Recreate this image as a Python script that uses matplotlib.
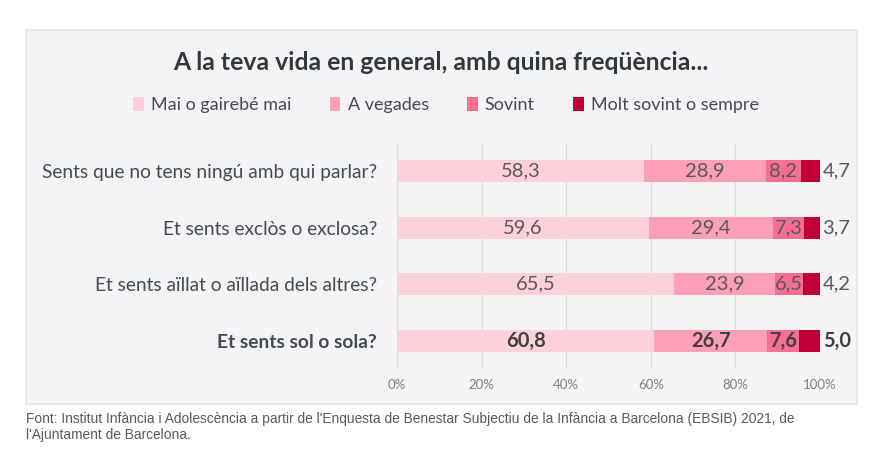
import matplotlib.pyplot as plt
from matplotlib.patches import Rectangle

plt.rcParams['font.family'] = ['Lato', 'DejaVu Sans']

# data
questions = ["Sents que no tens ningú amb qui parlar?",
             "Et sents exclòs o exclosa?",
             "Et sents aïllat o aïllada dels altres?",
             "Et sents sol o sola?"]
mai = [58.3, 59.6, 65.5, 60.8]
a_vegades = [28.9, 29.4, 23.9, 26.7]
sovint = [8.2, 7.3, 6.5, 7.6]
molt = [4.7, 3.7, 4.2, 5.0]
series_names = ["Mai o gairebé mai", "A vegades", "Sovint", "Molt sovint o sempre"]
colors = ["#FDD0DC", "#FBA0B7", "#F66E92", "#C10037"]
ticks = [0, 20, 40, 60, 80, 100]

fig = plt.figure(figsize=(8.7, 4.53), dpi=100)
W, H = 870, 453

# grey panel
fig.patches.append(Rectangle((26 / W, 1 - 404 / H), (857 - 26) / W, (404 - 30) / H,
                             transform=fig.transFigure, facecolor="#F4F4F6",
                             edgecolor="#E6E6E9", linewidth=1.2, zorder=-5))

ax = fig.add_axes([397 / W, 1 - 369 / H, (820 - 397) / W, (369 - 143) / H])
ax.set_facecolor("none")
ax.set_zorder(2)

series = [mai, a_vegades, sovint, molt]
ypos = list(range(len(questions)))
lefts = [0.0] * len(questions)
for k, vals in enumerate(series):
    ax.barh(ypos, vals, left=lefts, height=0.39, color=colors[k], zorder=2,
            label=series_names[k])
    for i, v in enumerate(vals):
        bold = i == len(questions) - 1
        txt = f"{v:.1f}".replace(".", ",")
        if k < 3:
            ax.text(lefts[i] + v / 2, i, txt, ha="center", va="center", fontsize=14.5,
                    color="#404040" if bold else "#595959",
                    fontweight="bold" if bold else "normal", zorder=3)
        else:
            ax.text(lefts[i] + v + 0.6, i, txt, ha="left", va="center", fontsize=14.5,
                    color="#404040" if bold else "#595959",
                    fontweight="bold" if bold else "normal", zorder=3)
    lefts = [l + v for l, v in zip(lefts, vals)]

ax.set_xlim(0, 100)
ax.set_ylim(3.5, -0.5)
ax.set_xticks(ticks)
ax.set_xticklabels([f"{t}%" for t in ticks], fontsize=9.5, color="#7F7F7F")
ax.set_yticks(ypos)
ax.set_yticklabels(questions, fontsize=13.8, color="#454A57")
ax.get_yticklabels()[-1].set_fontweight("bold")
ax.tick_params(axis="both", length=0)
ax.tick_params(axis="y", pad=14.4)
ax.tick_params(axis="x", pad=7)
ax.grid(axis="x", color="#DCDCDE", linewidth=0.9, zorder=1)
for s in ax.spines.values():
    s.set_visible(False)

fig.text(441 / W, 1 - 62 / H, "A la teva vida en general, amb quina freqüència...",
         ha="center", va="center", fontsize=17.8, fontweight="bold", color="#333740")

handles, labels = ax.get_legend_handles_labels()
fig.legend(handles, labels, loc="center", bbox_to_anchor=(446 / W, 1 - 105 / H), ncol=4,
           frameon=False, fontsize=13, handlelength=0.6, handleheight=0.8,
           handletextpad=0.4, columnspacing=2.1, labelcolor="#454A57")

fig.text(26 / W, 1 - 427 / H,
         "Font: Institut Infància i Adolescència a partir de l'Enquesta de Benestar Subjectiu de la Infància a Barcelona (EBSIB) 2021, de\nl'Ajuntament de Barcelona.",
         ha="left", va="center", fontsize=9.9, color="#595959",
         family=["Liberation Sans", "DejaVu Sans"], linespacing=1.15)

fig.savefig("out.png", dpi=100)
